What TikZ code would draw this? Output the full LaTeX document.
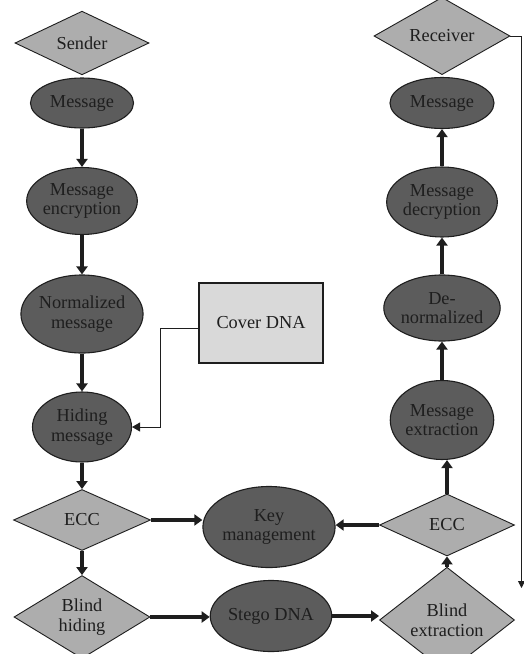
\documentclass[tikz,border=0pt]{standalone}
\usepackage{fontspec}
\setmainfont{Liberation Serif}
\usetikzlibrary{shapes.geometric,arrows.meta}
\definecolor{diagray}{HTML}{ADADAD}
\definecolor{ellgray}{HTML}{5C5C5C}
\definecolor{boxgray}{HTML}{D9D9D9}
\definecolor{ink}{HTML}{1E1E1E}
\begin{document}
\begin{tikzpicture}[x=1pt,y=1pt,
  txt/.style={font=\fontsize{18.3}{19.5}\selectfont, align=center, text=ink, inner sep=0pt},
  ell/.style={txt, ellipse, draw=ink, line width=1.1pt, fill=ellgray},
  dia/.style={txt, diamond, draw=ink, line width=0.9pt, fill=diagray},
  boxnode/.style={txt, rectangle, draw=ink, line width=1.1pt, fill=boxgray},
  flow/.style={ink, line width=4.2pt, -{Triangle[length=8pt,width=11pt]}},
  thinline/.style={ink, line width=0.9pt}
]
\useasboundingbox (0,0) rectangle (523,-654);

% left column
\node[dia, minimum width=134pt, minimum height=59pt] (sender) at (82,-43) {Sender};
\node[ell, minimum width=103pt, minimum height=50pt] (m1) at (82,-103) {Message};
\node[ell, minimum width=96pt, minimum height=67pt] (enc) at (82,-201) {Message\\encryption};
\node[ell, minimum width=106pt, minimum height=78pt] (norm) at (82,-314) {Normalized\\message};
\node[ell, minimum width=99pt, minimum height=70pt] (hide) at (82,-427) {Hiding\\message};
\node[dia, minimum width=137pt, minimum height=61pt] (eccL) at (82,-520) {ECC};
\node[dia, minimum width=136pt, minimum height=73pt] (blind) at (82,-617) {Blind\\hiding};

% middle
\node[boxnode, minimum width=124pt, minimum height=80pt] (cover) at (261,-323) {Cover DNA};
\node[ell, minimum width=112pt, minimum height=81pt] (key) at (269,-527) {Key\\management};
\node[ell, minimum width=106pt, minimum height=71pt] (stego) at (271,-616) {Stego DNA};

% right column
\node[dia, minimum width=136pt, minimum height=57pt] (recv) at (442,-36) {Receiver};
\node[ell, minimum width=104pt, minimum height=51pt] (m2) at (442,-103) {Message};
\node[ell, minimum width=99pt, minimum height=70pt] (dec) at (442,-202) {Message\\decryption};
\node[ell, minimum width=104pt, minimum height=66pt] (denorm) at (442,-308) {De-\\normalized};
\node[ell, minimum width=103pt, minimum height=79pt] (ext) at (442,-420) {Message\\extraction};
\node[dia, minimum width=135pt, minimum height=62pt] (eccR) at (447,-525) {ECC};
\node[dia, minimum width=135pt, minimum height=70pt] (bext) at (447,-620) {Blind\\extraction};

\coordinate (rend) at (521.5,-588);

% left flow
\draw[flow] (m1.south) -- (enc.north);
\draw[flow] (enc.south) -- (norm.north);
\draw[flow] (norm.south) -- (hide.north);
\draw[flow] (hide.south) -- (eccL.north);
\draw[flow] (eccL.south) -- (blind.north);

% horizontal flows
\draw[flow] (eccL.east) -- (key.west |- eccL.east);
\draw[flow] (eccR.west) -- (key.east |- eccR.west);
\draw[flow] (blind.east) -- (stego.west |- blind.east);
\draw[flow] (stego.east) -- (bext.west |- stego.east);

% right flow
\draw[flow] (bext.north) -- (eccR.south);
\draw[flow] (eccR.north) -- (eccR.north |- ext.south);
\draw[flow] (ext.north) -- (denorm.south);
\draw[flow] (denorm.north) -- (dec.south);
\draw[flow] (dec.north) -- (m2.south);

% cover DNA connector
\draw[thinline, -{Triangle[length=8pt,width=9pt]}] ([yshift=-5pt]cover.west) -- ++(-38,0) |- (hide.east);

% receiver connector
\draw[thinline, -{Triangle[length=7pt,width=7pt]}] (recv.east) -| (rend);
\end{tikzpicture}
\end{document}
